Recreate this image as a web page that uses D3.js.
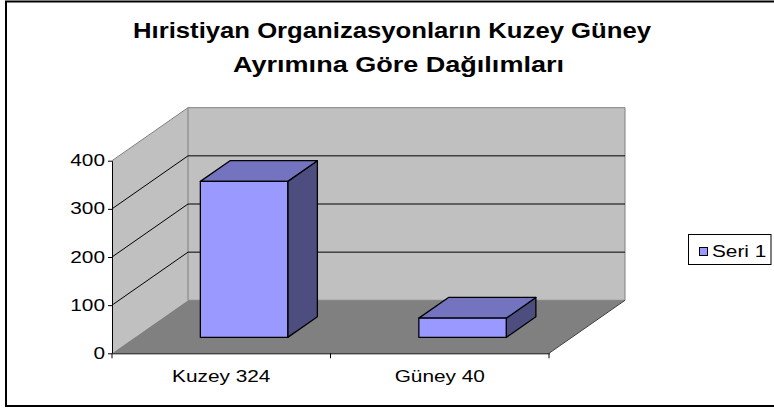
<!DOCTYPE html>
<html>
<head>
<meta charset="utf-8">
<script src="https://cdn.jsdelivr.net/npm/d3@7/dist/d3.min.js"></script>
<style>
  html, body { margin: 0; padding: 0; background: #fff; }
  svg { display: block; }
  text { font-family: "Liberation Sans", Arial, sans-serif; }
</style>
</head>
<body>
<svg id="chart" width="774" height="412"></svg>
<script>
// ---- data ----
const titleLines = ["Hıristiyan Organizasyonların Kuzey Güney", "Ayrımına Göre Dağılımları"];
const categories = ["Kuzey 324", "Güney 40"];
const values = [324, 40];
const yTicks = [0, 100, 200, 300, 400];
const seriesName = "Seri 1";

// ---- layout ----
const svg = d3.select("#chart");
const frontLeft = 112, frontRight = 549;
const yFront0 = 353.3, yFrontTop = 160.7;
const DX = 76, DY = -53;         // depth offset of back wall
const t0 = 0.30, t1 = 0.69;      // bar depth extent (fraction)
const STRETCH = 1.3;             // horizontal stretch of label glyphs
const labelSize = 16;

const y = d3.scaleLinear().domain([0, 400]).range([yFront0, yFrontTop]);
const x = d3.scaleBand().domain(categories).range([frontLeft, frontRight])
  .paddingInner(0.6).paddingOuter(0.3);
const xCat = d3.scaleBand().domain(categories).range([frontLeft, frontRight]).padding(0);

const P = (px, v, t) => [px + t * DX, y(v) + t * DY];
const poly = pts => "M" + pts.map(p => p.join(",")).join("L") + "Z";
function stretch(sel, f) {
  sel.each(function () {
    const len = this.getComputedTextLength();
    d3.select(this).attr("textLength", (len * f).toFixed(2)).attr("lengthAdjust", "spacingAndGlyphs");
  });
}

// outer border
svg.append("rect").attr("x", 6).attr("y", 1.5).attr("width", 769).attr("height", 404.5)
  .attr("fill", "#fff").attr("stroke", "#000").attr("stroke-width", 2);

// title
const titleYs = [37.5, 72];
const titleWidths = [518, 331];
const titleCx = [392, 398.5];
titleLines.forEach((s, i) => {
  svg.append("text").attr("x", titleCx[i]).attr("y", titleYs[i])
    .attr("text-anchor", "middle").attr("font-weight", "bold").attr("font-size", 21.5)
    .attr("fill", "#000").attr("textLength", titleWidths[i]).attr("lengthAdjust", "spacingAndGlyphs")
    .text(s);
});

const vMax = yTicks[yTicks.length - 1];
// side wall
svg.append("path").attr("d", poly([P(frontLeft, 0, 0), P(frontLeft, vMax, 0), P(frontLeft, vMax, 1), P(frontLeft, 0, 1)]))
  .attr("fill", "#c0c0c0").attr("stroke", "none");
// back wall
svg.append("path").attr("d", poly([P(frontLeft, 0, 1), P(frontLeft, vMax, 1), P(frontRight, vMax, 1), P(frontRight, 0, 1)]))
  .attr("fill", "#c0c0c0").attr("stroke", "#808080").attr("stroke-width", 1);
// side wall top edge
svg.append("line").attr("x1", P(frontLeft, vMax, 0)[0]).attr("y1", P(frontLeft, vMax, 0)[1])
  .attr("x2", P(frontLeft, vMax, 1)[0]).attr("y2", P(frontLeft, vMax, 1)[1])
  .attr("stroke", "#808080").attr("stroke-width", 1);

// gridlines (side + back)
const grid = svg.append("g");
yTicks.filter(v => v > 0 && v < vMax).forEach(v => {
  const a = P(frontLeft, v, 0), b = P(frontLeft, v, 1), c = P(frontRight, v, 1);
  grid.append("path").attr("d", `M${a}L${b}L${c}`).attr("fill", "none")
    .attr("stroke", "#000").attr("stroke-width", 1);
});

// floor
svg.append("path").attr("d", poly([P(frontLeft, 0, 0), P(frontLeft, 0, 1), P(frontRight, 0, 1), P(frontRight, 0, 0)]))
  .attr("fill", "#808080").attr("stroke", "none");
svg.append("line").attr("x1", P(frontRight, 0, 0)[0]).attr("y1", P(frontRight, 0, 0)[1])
  .attr("x2", P(frontRight, 0, 1)[0]).attr("y2", P(frontRight, 0, 1)[1])
  .attr("stroke", "#404040").attr("stroke-width", 1);

// y axis
const yAxis = svg.append("g").attr("transform", `translate(${frontLeft},0)`)
  .call(d3.axisLeft(y).tickValues(yTicks).tickSize(4).tickPadding(3).tickSizeOuter(0));
yAxis.select(".domain").attr("stroke", "#000");
yAxis.selectAll("line").attr("stroke", "#000");
yAxis.selectAll("text").attr("font-size", labelSize).attr("fill", "#000")
  .attr("font-family", "Liberation Sans, Arial, sans-serif").call(stretch, STRETCH);

// x axis
const xAxis = svg.append("g").attr("transform", `translate(0,${yFront0})`)
  .call(d3.axisBottom(xCat).tickSize(0).tickPadding(17).tickSizeOuter(0));
xAxis.select(".domain").attr("stroke", "#000");
xAxis.selectAll("text").attr("font-size", labelSize).attr("fill", "#000")
  .attr("font-family", "Liberation Sans, Arial, sans-serif").call(stretch, STRETCH);
const bounds = [frontLeft].concat(categories.map(c => xCat(c) + xCat.bandwidth()));
xAxis.selectAll(".bt").data(bounds).enter().append("line").attr("class", "bt")
  .attr("x1", d => d).attr("x2", d => d).attr("y1", 0).attr("y2", 5).attr("stroke", "#000");

// bars
const bars = svg.append("g");
categories.forEach((c, i) => {
  const v = values[i];
  const xl = x(c), xr = x(c) + x.bandwidth();
  const g = bars.append("g").attr("stroke", "#000").attr("stroke-width", 1.3).attr("stroke-linejoin", "round");
  g.append("path").attr("d", poly([P(xr, 0, t0), P(xr, v, t0), P(xr, v, t1), P(xr, 0, t1)])).attr("fill", "#4d4d80");
  g.append("path").attr("d", poly([P(xl, v, t0), P(xl, v, t1), P(xr, v, t1), P(xr, v, t0)])).attr("fill", "#7373bf");
  g.append("path").attr("d", poly([P(xl, 0, t0), P(xl, v, t0), P(xr, v, t0), P(xr, 0, t0)])).attr("fill", "#9999ff");
});

// legend
const lg = svg.append("g");
lg.append("rect").attr("x", 688.5).attr("y", 234.5).attr("width", 82.5).attr("height", 30)
  .attr("fill", "#fff").attr("stroke", "#000").attr("stroke-width", 1);
lg.append("rect").attr("x", 699.5).attr("y", 247.5).attr("width", 8).attr("height", 8)
  .attr("fill", "#9999ff").attr("stroke", "#000").attr("stroke-width", 1);
lg.append("text").attr("x", 712).attr("y", 256.5).attr("font-size", labelSize).attr("fill", "#000")
  .text(seriesName).call(stretch, STRETCH);
</script>
</body>
</html>
